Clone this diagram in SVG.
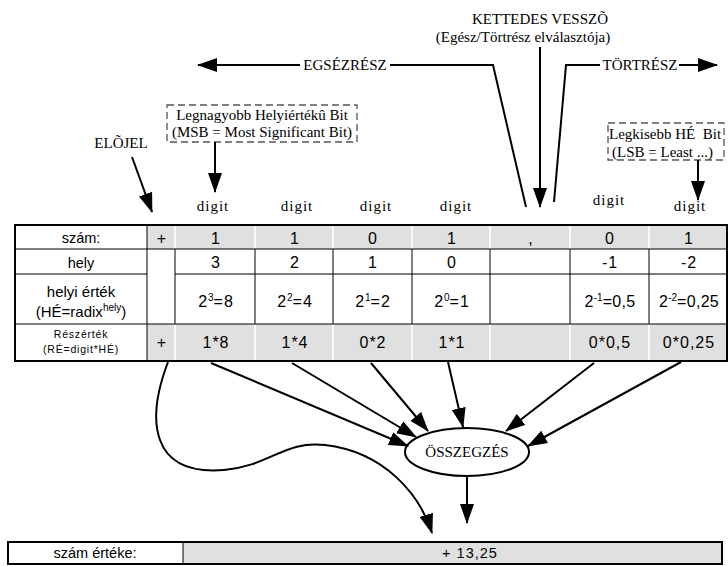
<svg xmlns="http://www.w3.org/2000/svg" width="728" height="566" viewBox="0 0 728 566">
<defs>
<marker id="arr" markerUnits="userSpaceOnUse" markerWidth="20" markerHeight="14" viewBox="0 0 20 14" refX="19" refY="7" orient="auto"><path d="M0,0 L20,7 L0,14 z" fill="#000"/></marker>
<style>
.serif{font-family:"Liberation Serif","Times New Roman",serif;fill:#000;font-size:15px}
.sans{font-family:"Liberation Sans",Arial,sans-serif;fill:#000;font-size:14.5px;text-anchor:middle}
.num{font-size:16px;letter-spacing:1px}
.c{text-anchor:middle}
.ln{stroke:#000;stroke-width:2;fill:none}
.grid{stroke:#000;stroke-width:1;fill:none}
.wsep{stroke:#fff;stroke-width:1.5}
.gray{fill:#e0e0e0}
.dash{fill:none;stroke:#555;stroke-width:1.3;stroke-dasharray:7 4}
.digit{letter-spacing:1px}
</style>
</defs>
<rect width="728" height="566" fill="#fff"/>

<g id="kettedes-vesszo">
<text class="serif c" x="540" y="24" font-size="15.5">KETTEDES VESSZÕ</text>
<text class="serif c" x="523" y="42">(Egész/Törtrész elválasztója)</text>
</g>
<g id="egeszresz"><text class="serif c" x="345" y="70" font-size="15.5">EGSÉZRÉSZ</text></g>
<g id="tortresz"><text class="serif c" x="640" y="70">TÖRTRÉSZ</text></g>
<g id="elojel"><text class="serif c" x="121" y="148">ELÕJEL</text></g>
<g id="msb-note">
<rect class="dash" x="167" y="105" width="190" height="37"/>
<text class="serif c" x="262" y="120" font-size="15.5">Legnagyobb Helyiértékû Bit</text>
<text class="serif c" x="262" y="137" font-size="15.5">(MSB = Most Significant Bit)</text>
</g>
<g id="lsb-note">
<rect class="dash" x="608" y="123" width="116" height="37"/>
<text class="serif" x="609" y="139" xml:space="preserve">Legkisebb HÉ  Bit</text>
<text class="serif" x="612" y="157">(LSB = Least ...)</text>
</g>
<g id="digits" class="serif c digit">
<text x="213" y="211">digit</text>
<text x="297" y="211">digit</text>
<text x="376" y="211">digit</text>
<text x="456" y="211">digit</text>
<text x="609" y="205">digit</text>
<text x="690" y="211">digit</text>
</g>

<g id="table">
<rect class="gray" x="147" y="225" width="580" height="24"/>
<rect class="gray" x="147" y="324" width="580" height="37"/>
<g class="wsep">
<path d="M175,225V249M255,225V249M333,225V249M412,225V249M490,225V249M570,225V249M649,225V249"/>
<path d="M175,324V361M255,324V361M333,324V361M412,324V361M490,324V361M570,324V361M649,324V361"/>
</g>
<g class="grid">
<path d="M15,249H727M15,274H147M175,274H727M15,324H727"/>
<path d="M147,225V361M175,249V324M255,249V324M333,249V324M412,249V324M490,249V324M570,249V324M649,249V324"/>
</g>
<rect x="15" y="225" width="712" height="136" fill="none" stroke="#000" stroke-width="2"/>
<g class="sans">
<text x="81" y="243">szám:</text>
<text x="81" y="268">hely</text>
<text x="81" y="297" font-size="15">helyi érték</text>
<text x="81" y="317" font-size="15">(HÉ=radix<tspan font-size="10" dy="-6">hely</tspan><tspan dy="6">)</tspan></text>
<text x="81" y="338" font-size="10.5" letter-spacing="0.8">Részérték</text>
<text x="81" y="353" font-size="10.5" letter-spacing="0.8">(RÉ=digit*HÉ)</text>
</g>
<g class="sans num">
<text x="162" y="244">+</text>
<text x="216" y="244">1</text>
<text x="295" y="244">1</text>
<text x="373" y="244">0</text>
<text x="452" y="244">1</text>
<text x="531" y="244">,</text>
<text x="610" y="244">0</text>
<text x="689" y="244">1</text>
<text x="216" y="268">3</text>
<text x="295" y="268">2</text>
<text x="373" y="268">1</text>
<text x="452" y="268">0</text>
<text x="610" y="268">-1</text>
<text x="689" y="268">-2</text>
<text x="216" y="307">2<tspan font-size="10" dy="-6" letter-spacing="0">3</tspan><tspan dy="6">=8</tspan></text>
<text x="295" y="307">2<tspan font-size="10" dy="-6" letter-spacing="0">2</tspan><tspan dy="6">=4</tspan></text>
<text x="373" y="307">2<tspan font-size="10" dy="-6" letter-spacing="0">1</tspan><tspan dy="6">=2</tspan></text>
<text x="452" y="307">2<tspan font-size="10" dy="-6" letter-spacing="0">0</tspan><tspan dy="6">=1</tspan></text>
<text x="610" y="307" letter-spacing="0.3">2<tspan font-size="10" dy="-6" letter-spacing="0">-1</tspan><tspan dy="6">=0,5</tspan></text>
<text x="689" y="307" letter-spacing="0.3">2<tspan font-size="10" dy="-6" letter-spacing="0">-2</tspan><tspan dy="6">=0,25</tspan></text>
<text x="162" y="348">+</text>
<text x="216" y="348">1*8</text>
<text x="295" y="348">1*4</text>
<text x="373" y="348">0*2</text>
<text x="452" y="348">1*1</text>
<text x="610" y="348">0*0,5</text>
<text x="689" y="348">0*0,25</text>
</g>
</g>

<g id="osszegzes">
<ellipse cx="467" cy="452" rx="62" ry="24" fill="#fff" stroke="#000" stroke-width="2"/>
<text class="serif c" x="467" y="457" font-size="12.5">ÖSSZEGZÉS</text>
</g>

<g id="result">
<rect class="gray" x="183" y="542" width="539" height="22"/>
<rect x="8" y="542" width="714" height="22" fill="none" stroke="#000" stroke-width="2"/>
<path d="M183,542V564" stroke="#000" stroke-width="1"/>
<text class="sans" x="95" y="558">szám értéke:</text>
<text class="sans" x="470" y="558" font-size="15" letter-spacing="1">+ 13,25</text>
</g>

<g id="connectors" class="ln">
<path d="M300,65H198" marker-end="url(#arr)"/>
<path d="M390,65H493L526,207"/>
<path d="M540,47V207" marker-end="url(#arr)"/>
<path d="M600,65H566L554,202"/>
<path d="M679,65H717" marker-end="url(#arr)"/>
<path d="M132,157L152,212" marker-end="url(#arr)"/>
<path d="M215,142V192" marker-end="url(#arr)"/>
<path d="M698,160V200" marker-end="url(#arr)"/>
<path d="M211,363L408,446" marker-end="url(#arr)"/>
<path d="M292,363L416,437" marker-end="url(#arr)"/>
<path d="M371,363L428,431" marker-end="url(#arr)"/>
<path d="M448,362L463,427" marker-end="url(#arr)"/>
<path d="M594,363L506,431" marker-end="url(#arr)"/>
<path d="M681,362L528,446" marker-end="url(#arr)"/>
<path d="M467,476V523" marker-end="url(#arr)"/>
<path d="M168,362C146,420 150,476 224,470C270,466 285,440 325,445C385,452 420,495 432,533" marker-end="url(#arr)"/>
</g>
</svg>
